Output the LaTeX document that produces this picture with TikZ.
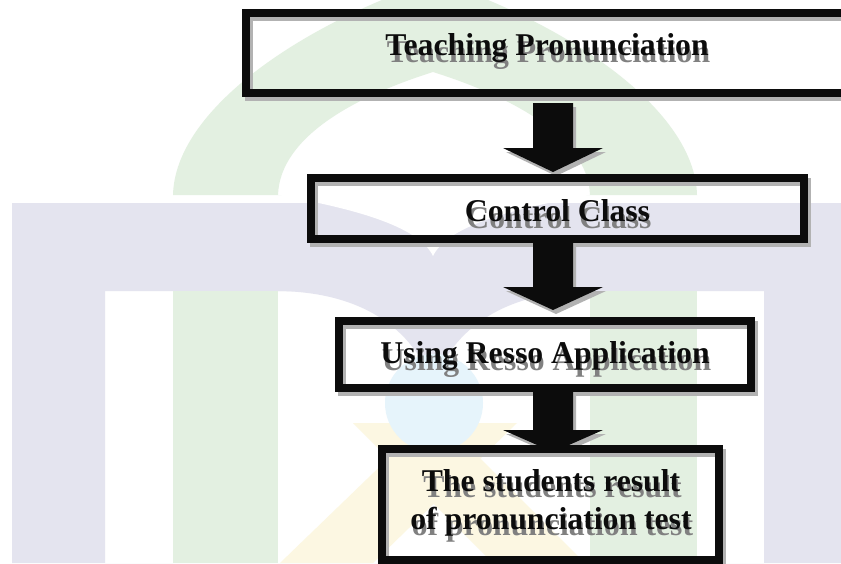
\documentclass[tikz,border=0pt]{standalone}
\usepackage{fontspec}
\setmainfont{Liberation Serif}
\usetikzlibrary{calc}
\pgfdeclarelayer{wm}
\pgfdeclarelayer{shadowlayer}
\pgfsetlayers{wm,shadowlayer,main}
\definecolor{wmgreen}{RGB}{227,240,225}
\definecolor{wmlav}{RGB}{228,228,239}
\definecolor{wmblue}{RGB}{230,244,251}
\definecolor{wmyellow}{RGB}{252,247,226}
\definecolor{ink}{RGB}{12,12,12}
\definecolor{shade}{RGB}{178,178,178}
\definecolor{txtshade}{RGB}{128,128,128}
\newcommand\blockarrow[4]{%
  \fill[#1] ($(#2)+(-20,0)$) -- ($(#2)+(20,0)$) -- ($(#3)+(20,-#4)$) -- ($(#3)+(50,-#4)$)
    -- (#3) -- ($(#3)+(-50,-#4)$) -- ($(#3)+(-20,-#4)$) -- cycle;}
\begin{document}
\begin{tikzpicture}[x=1pt,y=-1pt,
  flowbox/.style={draw=ink,line width=8.5pt,inner sep=0pt,outer sep=0pt},
  boxshade/.style={draw=shade,line width=8.5pt},
  lbl/.style={font=\bfseries\fontsize{31.7}{36}\selectfont,text=ink,anchor=base,inner sep=0pt},
  lblshade/.style={lbl,text=txtshade},
  arrowbody/.style={fill=ink},
  arrowshade/.style={fill=shade}]
\useasboundingbox (0,0) rectangle (841,563);

% boxes
\node[flowbox,minimum width=602pt,minimum height=80pt] (b1) at (547,53) {};
\node[flowbox,minimum width=493pt,minimum height=61pt] (b2) at (557.5,208.5) {};
\node[flowbox,minimum width=412pt,minimum height=67pt] (b3) at (545,354.5) {};
\node[flowbox,minimum width=337pt,minimum height=111pt] (b4) at (550.5,504.5) {};

% texts
\node[lbl] (t1) at (547,55.5) {Teaching Pronunciation};
\node[lbl] (t2) at (557.5,221.5) {Control Class};
\node[lbl] (t3) at (545,363.5) {Using Resso Application};
\node[lbl] (t4a) at (551,491) {The students result};
\node[lbl] (t4b) at (551,529) {of pronunciation test};

% arrows
\coordinate (ax) at (553,0);
\coordinate (a1s) at ($(b1.south -| ax)+(0,10)$);
\coordinate (a1e) at ($(b2.north -| ax)+(0,-6)$);
\coordinate (a2s) at (b2.south -| ax);
\coordinate (a2e) at ($(b3.north -| ax)+(0,-11)$);
\coordinate (a3s) at (b3.south -| ax);
\coordinate (a3e) at ($(b4.north -| ax)+(0,3)$);
\blockarrow{arrowbody}{a1s}{a1e}{24}
\blockarrow{arrowbody}{a2s}{a2e}{23}
\blockarrow{arrowbody}{a3s}{a3e}{22}

% shadows
\begin{pgfonlayer}{shadowlayer}
\begin{scope}[transform canvas={shift={(3,4)}}]
  \draw[boxshade] (b1.south west) rectangle (b1.north east);
  \draw[boxshade] (b2.south west) rectangle (b2.north east);
  \draw[boxshade] (b3.south west) rectangle (b3.north east);
  \draw[boxshade] (b4.south west) rectangle (b4.north east);
  \blockarrow{arrowshade}{a1s}{a1e}{24}
  \blockarrow{arrowshade}{a2s}{a2e}{23}
  \blockarrow{arrowshade}{a3s}{a3e}{22}
\end{scope}
\begin{scope}[transform canvas={shift={(1.5,6.5)}}]
  \node[lblshade] at (t1.base) {Teaching Pronunciation};
  \node[lblshade] at (t2.base) {Control Class};
  \node[lblshade] at (t3.base) {Using Resso Application};
  \node[lblshade] at (t4a.base) {The students result};
  \node[lblshade] at (t4b.base) {of pronunciation test};
\end{scope}
\end{pgfonlayer}

% watermark
\begin{pgfonlayer}{wm}
  \fill[white] (0,0) rectangle (841,563);
  \fill[wmgreen,even odd rule]
    (173,195) .. controls (175,110) and (300,25) .. (435,-20)
    .. controls (570,25) and (695,110) .. (697,195) -- cycle
    (278,195) .. controls (280,135) and (360,95) .. (433,72)
    .. controls (506,95) and (588,135) .. (590,195) -- cycle;
  \fill[wmlav,even odd rule] (12,203) rectangle (841,563) (105,291) rectangle (764,563);
  \fill[wmlav] (275,291) .. controls (350,291) and (410,320) .. (433,385)
    .. controls (456,320) and (516,291) .. (591,291) -- cycle;
  \fill[white] (278,195) .. controls (350,208) and (418,225) .. (433,256)
    .. controls (448,225) and (516,208) .. (590,195) -- cycle;
  \fill[wmgreen] (173,291) rectangle (278,563);
  \fill[wmgreen] (590,291) rectangle (697,563);
  \fill[wmyellow] (425,423) -- (517,423) -- (373,563) -- (280,563) -- cycle;
  \fill[wmyellow] (353,423) -- (445,423) -- (585,563) -- (493,563) -- cycle;
  \fill[wmblue] (434,403) circle[radius=49];
\end{pgfonlayer}
\end{tikzpicture}
\end{document}
